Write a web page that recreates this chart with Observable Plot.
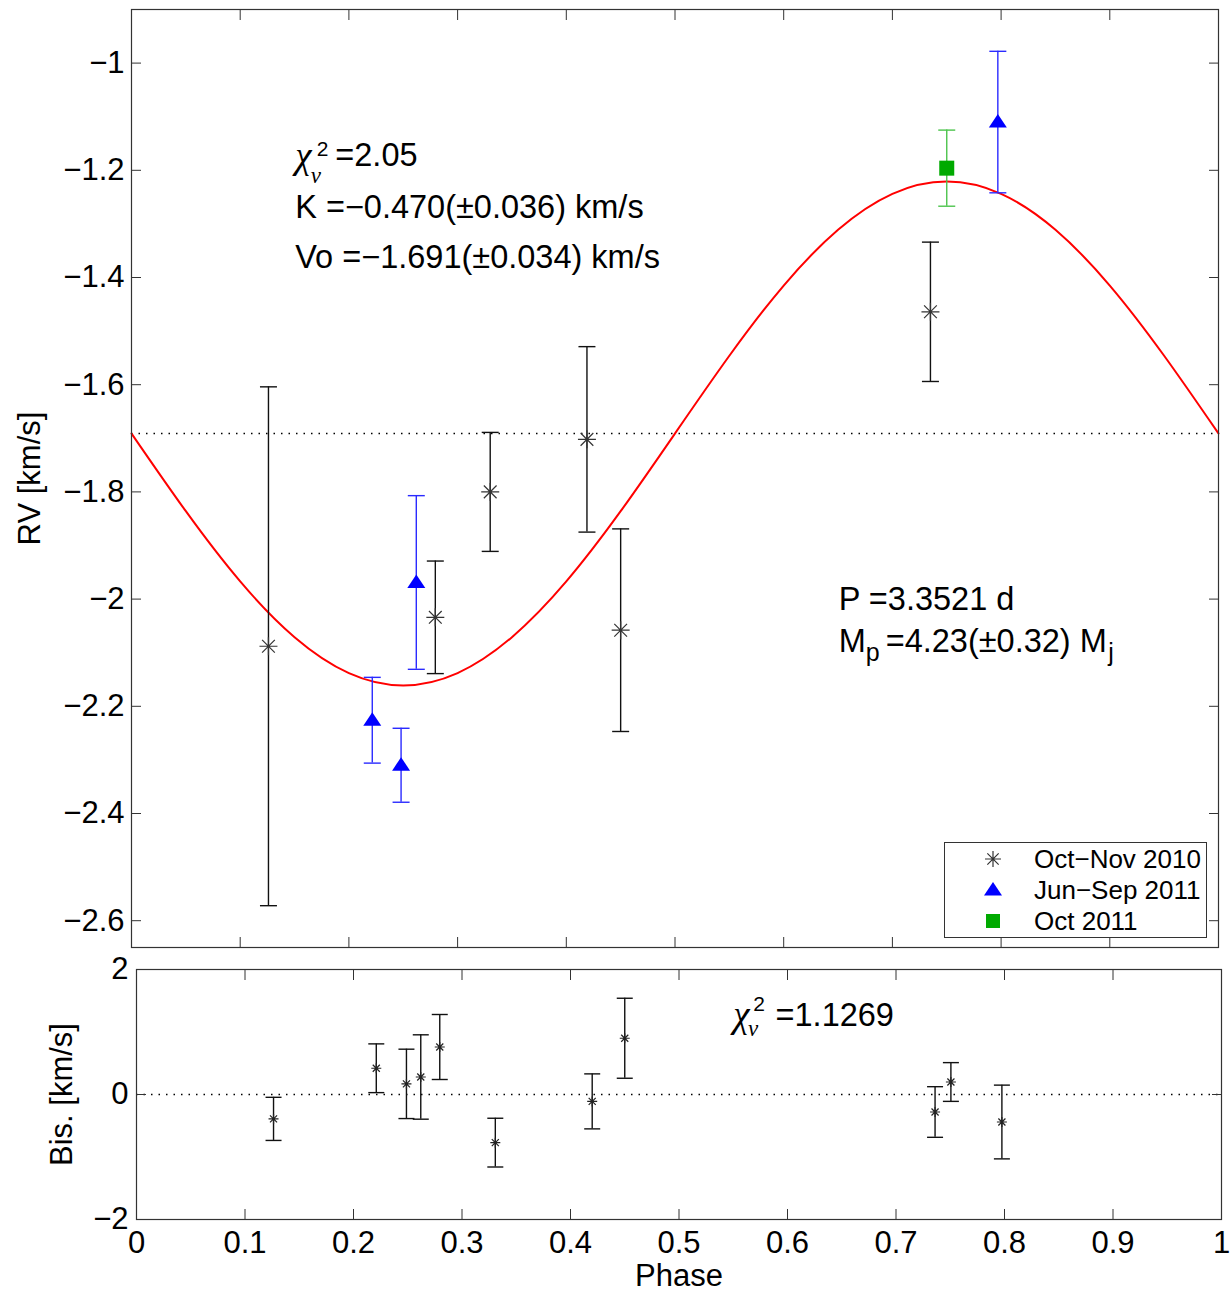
<!DOCTYPE html>
<html><head><meta charset="utf-8">
<script src="https://cdn.jsdelivr.net/npm/d3@7"></script>
<script src="https://cdn.jsdelivr.net/npm/@observablehq/plot@0.6"></script>
<style>
body{margin:0;background:#fff;}
#wrap{position:relative;width:1232px;height:1292px;background:#fff;font-family:"Liberation Sans",Arial,sans-serif;overflow:hidden;}
#topPanel,#botPanel{position:absolute;left:0;}
#topPanel{top:0}
#botPanel{top:950px}
#legend{position:absolute;left:944px;top:842px;width:263px;height:96px;border:1px solid #333;background:#fff;box-sizing:border-box;}
.lrow{position:absolute;left:89px;font-size:26px;line-height:30px;color:#000;white-space:nowrap;}
.lsym{position:absolute;left:33px;width:30px;height:30px;}
</style></head><body>
<div id="wrap"><div id="topPanel"></div><div id="botPanel"></div><div id="legend"></div></div>
<script>
// ---- data ----
const seriesNames = ["Oct−Nov 2010", "Jun−Sep 2011", "Oct 2011"];
const seriesColors = ["#222222", "#0000ff", "#00aa00"];

const octNov2010Phase = [0.126, 0.2795, 0.330, 0.419, 0.450, 0.735];
const octNov2010RV    = [-2.088, -2.034, -1.800, -1.702, -2.058, -1.464];
const octNov2010Err   = [0.484, 0.105, 0.111, 0.173, 0.189, 0.130];

const junSep2011Phase = [0.2215, 0.248, 0.262, 0.797];
const junSep2011RV    = [-2.226, -2.310, -1.969, -1.110];
const junSep2011Err   = [0.080, 0.069, 0.162, 0.132];

const oct2011Phase = [0.750];
const oct2011RV    = [-1.196];
const oct2011Err   = [0.071];

const fitPhase = [0, 0.05, 0.1, 0.15, 0.2, 0.25, 0.3, 0.35, 0.4, 0.45, 0.5, 0.55, 0.6, 0.65, 0.7, 0.75, 0.8, 0.85, 0.9, 0.95, 1];
const fitRV    = [-1.691, -1.836, -1.967, -2.071, -2.138, -2.161, -2.138, -2.071, -1.967, -1.836, -1.691, -1.546, -1.415, -1.311, -1.244, -1.221, -1.244, -1.311, -1.415, -1.546, -1.691];
const systemicV = -1.691;

const bisPhase = [0.1263, 0.221, 0.2488, 0.262, 0.2795, 0.3307, 0.420, 0.450, 0.736, 0.7506, 0.7976];
const bisValue = [-0.39, 0.42, 0.17, 0.28, 0.76, -0.77, -0.11, 0.90, -0.28, 0.20, -0.44];
const bisErr   = [0.345, 0.39, 0.555, 0.675, 0.52, 0.39, 0.44, 0.64, 0.405, 0.31, 0.59];

const xTicks = [0, 0.1, 0.2, 0.3, 0.4, 0.5, 0.6, 0.7, 0.8, 0.9, 1];
const rvTicks = [-2.6, -2.4, -2.2, -2, -1.8, -1.6, -1.4, -1.2, -1];
const bisTicks = [-2, 0, 2];

// ---- helpers ----
const rows = (p, v, e) => p.map((x, i) => ({phase: x, v: v[i], lo: v[i] - e[i], hi: v[i] + e[i]}));
const r2010 = rows(octNov2010Phase, octNov2010RV, octNov2010Err);
const r2011 = rows(junSep2011Phase, junSep2011RV, junSep2011Err);
const rOct = rows(oct2011Phase, oct2011RV, oct2011Err);
const fit = fitPhase.map((p, i) => ({phase: p, v: fitRV[i]}));
const bis = rows(bisPhase, bisValue, bisErr);

const fmt = d => (d < 0 ? "\u2212" : "") + String(+Math.abs(d).toFixed(2));

const asterisk = {draw(ctx, size) {
  const r = Math.sqrt(size / Math.PI), d = r * Math.SQRT1_2;
  ctx.moveTo(-r, 0); ctx.lineTo(r, 0);
  ctx.moveTo(0, -r); ctx.lineTo(0, r);
  ctx.moveTo(-d, -d); ctx.lineTo(d, d);
  ctx.moveTo(-d, d); ctx.lineTo(d, -d);
}};
const cap = {draw(ctx, size) {
  const r = Math.sqrt(size / Math.PI);
  ctx.moveTo(-r, 0); ctx.lineTo(r, 0);
}};
const tri = {draw(ctx, size) {
  const r = Math.sqrt(size / Math.PI);
  ctx.moveTo(0, -r * 0.9); ctx.lineTo(r, r * 0.6); ctx.lineTo(-r, r * 0.6); ctx.closePath();
}};
const sq = {draw(ctx, size) {
  const r = Math.sqrt(size / Math.PI);
  ctx.rect(-r, -r, 2 * r, 2 * r);
}};

const errMarks = (data, color, w, capR) => [
  Plot.ruleX(data, {x: "phase", y1: "lo", y2: "hi", stroke: color, strokeWidth: w}),
  Plot.dot(data, {x: "phase", y: "lo", symbol: cap, r: capR, stroke: color, fill: "none", strokeWidth: w}),
  Plot.dot(data, {x: "phase", y: "hi", symbol: cap, r: capR, stroke: color, fill: "none", strokeWidth: w})
];

const note = (t, x, y, o = {}) => Plot.text([t], {x: [x], y: [y], text: d => d, textAnchor: "start", lineAnchor: "bottom", fontSize: 32.5, fill: "black", ...o});
const serif = {fontFamily: "Liberation Serif, DejaVu Serif, serif", fontStyle: "italic"};

const tickAxes = (xt, yt) => [
  Plot.axisX(xt, {anchor: "bottom", tickSize: -10, tickFormat: () => "", label: null, stroke: "#333"}),
  Plot.axisX(xt, {anchor: "top", tickSize: -10, tickFormat: () => "", label: null, stroke: "#333"}),
  Plot.axisY(yt, {anchor: "left", tickSize: -10, tickFormat: () => "", label: null, stroke: "#333"}),
  Plot.axisY(yt, {anchor: "right", tickSize: -10, tickFormat: () => "", label: null, stroke: "#333"})
];

// ---- top panel ----
const topPlot = Plot.plot({
  width: 1232, height: 950,
  marginTop: 9, marginBottom: 3, marginLeft: 131, marginRight: 14,
  x: {domain: [0, 1]},
  y: {domain: [-2.65, -0.9]},
  style: {fontFamily: "Liberation Sans, Arial, sans-serif", fontSize: "31px", background: "white", color: "black"},
  marks: [
    Plot.ruleY([systemicV], {stroke: "black", strokeDasharray: "1.5,6", strokeWidth: 1.3}),
    Plot.line(fit, {x: "phase", y: "v", stroke: "#ff0000", strokeWidth: 2, curve: "natural"}),
    ...errMarks(r2010, "#111", 1.4, 8.5),
    ...errMarks(r2011, "#2a2aff", 1.4, 8.5),
    ...errMarks(rOct, "#4cc44c", 1.4, 8.5),
    Plot.dot(r2010, {x: "phase", y: "v", symbol: asterisk, r: 9, stroke: "#333", fill: "none", strokeWidth: 1.2}),
    Plot.dot(r2011, {x: "phase", y: "v", symbol: tri, r: 9, fill: "#0000ff", stroke: "none"}),
    Plot.dot(rOct, {x: "phase", y: "v", symbol: sq, r: 7.5, fill: "#00aa00", stroke: "none"}),
    Plot.frame({stroke: "#333", strokeWidth: 1.2}),
    ...tickAxes(xTicks.slice(1, -1), rvTicks),
    Plot.axisY(rvTicks, {anchor: "left", tickSize: 0, tickPadding: 7, tickFormat: fmt, label: null, fontSize: 31}),
    Plot.text(["RV [km/s]"], {frameAnchor: "left", dx: -101, rotate: -90, text: d => d, fontSize: 31, textAnchor: "middle", lineAnchor: "middle"}),
    note("\u03c7", 0.1506, -1.195, {...serif, fontSize: 37}),
    note("2", 0.1705, -1.1725, {fontSize: 21}),
    note("\u03bd", 0.1650, -1.224, {...serif, fontSize: 23}),
    note("=2.05", 0.1875, -1.192),
    note("K =\u22120.470(\u00b10.036) km/s", 0.1506, -1.289),
    note("Vo =\u22121.691(\u00b10.034) km/s", 0.1506, -1.382),
    note("P =3.3521 d", 0.6506, -2.021),
    note("M", 0.6506, -2.098),
    note("p", 0.6755, -2.116, {fontSize: 25}),
    note("=4.23(\u00b10.32) M", 0.6938, -2.098),
    note("j", 0.8985, -2.116, {fontSize: 25})
  ]
});
document.getElementById("topPanel").appendChild(topPlot);

// ---- bottom panel ----
const botPlot = Plot.plot({
  width: 1232, height: 342,
  marginTop: 19, marginBottom: 73, marginLeft: 136, marginRight: 11,
  x: {domain: [0, 1]},
  y: {domain: [-2, 2]},
  style: {fontFamily: "Liberation Sans, Arial, sans-serif", fontSize: "31px", background: "white", color: "black"},
  marks: [
    Plot.ruleY([0], {stroke: "black", strokeDasharray: "1.5,6", strokeWidth: 1.3}),
    ...errMarks(bis, "#111", 1.4, 8),
    Plot.dot(bis, {x: "phase", y: "v", symbol: asterisk, r: 5, stroke: "#222", fill: "none", strokeWidth: 1.2}),
    Plot.frame({stroke: "#333", strokeWidth: 1.2}),
    ...tickAxes(xTicks.slice(1, -1), bisTicks),
    Plot.axisY(bisTicks, {anchor: "left", tickSize: 0, tickPadding: 8, tickFormat: fmt, label: null, fontSize: 31}),
    Plot.axisX(xTicks, {anchor: "bottom", tickSize: 0, tickPadding: 11, tickFormat: fmt, label: null, fontSize: 31}),
    Plot.text(["Phase"], {frameAnchor: "bottom", dy: 66, text: d => d, fontSize: 31, lineAnchor: "bottom"}),
    Plot.text(["Bis. [km/s]"], {frameAnchor: "left", dx: -74, rotate: -90, text: d => d, fontSize: 31, textAnchor: "middle", lineAnchor: "middle"}),
    note("\u03c7", 0.550, 1.08, {...serif, fontSize: 37}),
    note("2", 0.5685, 1.34, {fontSize: 21}),
    note("\u03bd", 0.5635, 0.94, {...serif, fontSize: 23}),
    note("=1.1269", 0.589, 1.10)
  ]
});
document.getElementById("botPanel").appendChild(botPlot);

// ---- legend ----
const legend = d3.select("#legend");
const legendSymbols = [asterisk, tri, sq];
const legendR = [8, 9, 7];
seriesNames.forEach((name, i) => {
  const cy = 16 + i * 31;
  const s = legend.append("svg").attr("class", "lsym").attr("width", 30).attr("height", 30).style("top", (cy - 15) + "px");
  const path = d3.path();
  legendSymbols[i].draw(path, legendR[i] * legendR[i] * Math.PI);
  s.append("path").attr("transform", "translate(15,15)").attr("d", path.toString())
    .attr("fill", i === 0 ? "none" : seriesColors[i])
    .attr("stroke", i === 0 ? "#333" : "none").attr("stroke-width", 1.2);
  legend.append("div").attr("class", "lrow").style("top", (cy - 15) + "px").text(name);
});
</script>
</body></html>
